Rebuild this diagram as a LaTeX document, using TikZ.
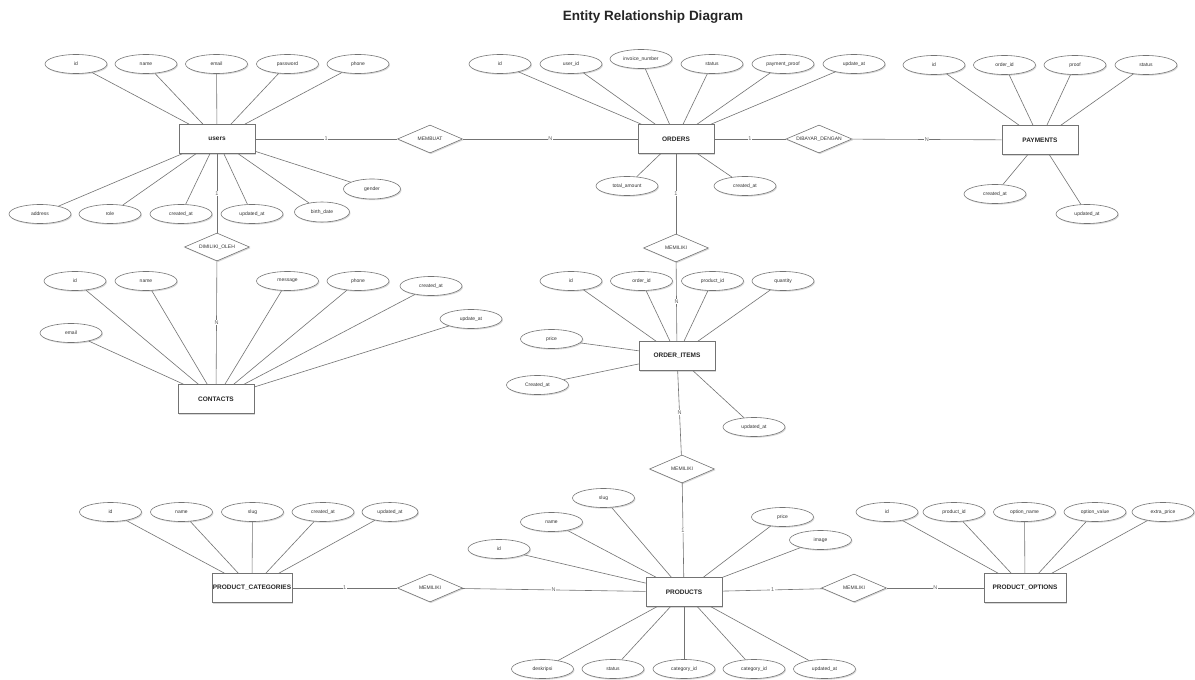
\documentclass[tikz,border=0pt]{standalone}
\usepackage{fontspec}
\setmainfont{Liberation Sans}
\usetikzlibrary{shapes.geometric,shadows}
\begin{document}
\begin{tikzpicture}[x=1pt,y=-1pt,
  every node/.style={font=\fontsize{5}{6}\selectfont, text=black!80},
  shad/.style={drop shadow={shadow xshift=1pt, shadow yshift=-1.2pt, opacity=0.3}},
  attr/.style={ellipse, draw=black!55, line width=0.6pt, fill=white, minimum width=62pt, minimum height=19pt, inner sep=0pt, shad},
  ent/.style={rectangle, draw=black!55, line width=0.6pt, fill=white, minimum width=76pt, minimum height=29pt, inner sep=0pt, font=\fontsize{6.5}{8}\selectfont\bfseries, text=black!85, shad},
  rel/.style={diamond, draw=black!55, line width=0.6pt, fill=white, minimum width=65pt, minimum height=28pt, inner sep=0pt, aspect=2.3, shad},
  link/.style={draw=black!55, line width=0.6pt},
  card/.style={midway, fill=white, inner sep=0.6pt, text=black!60, font=\fontsize{5.5}{6}\selectfont}
]
\fill[white] (0,0) rectangle (1195,680);
\path[use as bounding box] (0,0) rectangle (1195,680);

\node[font=\fontsize{13.5}{15}\selectfont\bfseries, text=black!85] (title) at (653,17) {Entity Relationship Diagram};

% entities
\node[ent] (users) at (217,139) {users};
\node[ent] (orders) at (676,139) {ORDERS};
\node[ent] (payments) at (1040,140) {PAYMENTS};
\node[ent] (contacts) at (216,399) {CONTACTS};
\node[ent] (items) at (677,356) {ORDER\_ITEMS};
\node[ent, minimum width=80pt] (cats) at (252,588) {PRODUCT\_CATEGORIES};
\node[ent] (products) at (684,592) {PRODUCTS};
\node[ent, minimum width=82pt] (options) at (1025,588) {PRODUCT\_OPTIONS};

% relationships
\node[rel] (membuat) at (430,139) {MEMBUAT};
\node[rel, minimum width=66pt] (dibayar) at (819,139) {DIBAYAR\_DENGAN};
\node[rel] (dimiliki) at (217,247) {DIMILIKI\_OLEH};
\node[rel] (mem1) at (676,248) {MEMILIKI};
\node[rel] (mem2) at (682,469) {MEMILIKI};
\node[rel] (mem3) at (430,588) {MEMILIKI};
\node[rel] (mem4) at (854,588) {MEMILIKI};

% users attributes
\node[attr] (u1) at (76,64) {id};
\node[attr] (u2) at (146,64) {name};
\node[attr] (u3) at (216.5,64) {email};
\node[attr] (u4) at (287.5,64) {password};
\node[attr] (u5) at (358,64) {phone};
\node[attr] (u6) at (40,214) {address};
\node[attr] (u7) at (110,214) {role};
\node[attr] (u8) at (181,214) {created\_at};
\node[attr] (u9) at (252,214) {updated\_at};
\node[attr, minimum width=55pt, minimum height=20pt] (u10) at (322,212) {birth\_date};
\node[attr, minimum width=57pt, minimum height=20pt] (u11) at (372,189) {gender};
\foreach \a in {u1,u2,u3,u4,u5,u6,u7,u8,u9,u10,u11} \draw[link] (\a) -- (users);

% orders attributes
\node[attr] (o1) at (500,64) {id};
\node[attr] (o2) at (571,64) {user\_id};
\node[attr] (o3) at (641,59) {invoice\_number};
\node[attr] (o4) at (712,64) {status};
\node[attr] (o5) at (783,64) {payment\_proof};
\node[attr] (o6) at (854,64) {update\_at};
\node[attr] (o7) at (627,186) {total\_amount};
\node[attr] (o8) at (745,186) {created\_at};
\foreach \a in {o1,o2,o3,o4,o5,o6,o7,o8} \draw[link] (\a) -- (orders);

% payments attributes
\node[attr] (p1) at (934,65) {id};
\node[attr] (p2) at (1004.5,65) {order\_id};
\node[attr] (p3) at (1075,65) {proof};
\node[attr] (p4) at (1146,65) {status};
\node[attr] (p5) at (995,194) {created\_at};
\node[attr] (p6) at (1087,214) {updated\_at};
\foreach \a in {p1,p2,p3,p4,p5,p6} \draw[link] (\a) -- (payments);

% contacts attributes
\node[attr] (c1) at (75,281) {id};
\node[attr] (c2) at (146,281) {name};
\node[attr] (c3) at (287.5,281) {message};
\node[attr] (c4) at (358,281) {phone};
\node[attr] (c5) at (431,286) {created\_at};
\node[attr] (c6) at (471,319) {update\_at};
\node[attr] (c7) at (71,333) {email};
\foreach \a in {c1,c2,c3,c4,c5,c6,c7} \draw[link] (\a) -- (contacts);

% order items attributes
\node[attr] (i1) at (571,281) {id};
\node[attr] (i2) at (641.5,281) {order\_id};
\node[attr] (i3) at (712.5,281) {product\_id};
\node[attr] (i4) at (783,281) {quantity};
\node[attr] (i5) at (551.5,339) {price};
\node[attr] (i6) at (537.5,385) {Created\_at};
\node[attr] (i7) at (754,427) {updated\_at};
\foreach \a in {i1,i2,i3,i4,i5,i6,i7} \draw[link] (\a) -- (items);

% categories attributes
\node[attr] (k1) at (110.5,512) {id};
\node[attr] (k2) at (181.5,512) {name};
\node[attr] (k3) at (252.5,512) {slug};
\node[attr] (k4) at (323,512) {created\_at};
\node[attr, minimum width=56pt] (k5) at (390,512) {updated\_at};
\foreach \a in {k1,k2,k3,k4,k5} \draw[link] (\a) -- (cats);

% products attributes
\node[attr] (r1) at (499,549) {id};
\node[attr] (r2) at (551.5,522) {name};
\node[attr] (r3) at (603.5,498) {slug};
\node[attr] (r4) at (782.5,517) {price};
\node[attr] (r5) at (820.5,540) {image};
\node[attr] (r6) at (542.5,669) {deskripsi};
\node[attr] (r7) at (613,669) {status};
\node[attr] (r8) at (684,669) {category\_id};
\node[attr] (r9) at (754,669) {category\_id};
\node[attr] (r10) at (824.5,669) {updated\_at};
\foreach \a in {r1,r2,r3,r4,r5,r6,r7,r8,r9,r10} \draw[link] (\a) -- (products);

% options attributes
\node[attr] (q1) at (887,512) {id};
\node[attr] (q2) at (954,512) {product\_id};
\node[attr] (q3) at (1024.5,512) {option\_name};
\node[attr] (q4) at (1095,512) {option\_value};
\node[attr] (q5) at (1163,512) {extra\_price};
\foreach \a in {q1,q2,q3,q4,q5} \draw[link] (\a) -- (options);

% relationship connectors
\draw[link] (users) -- node[card] {1} (membuat);
\draw[link] (membuat) -- node[card] {N} (orders);
\draw[link] (orders) -- node[card] {1} (dibayar);
\draw[link] (dibayar) -- node[card] {N} (payments);
\draw[link] (users) -- node[card] {1} (dimiliki);
\draw[link] (dimiliki) -- node[card] {N} (contacts);
\draw[link] (orders) -- node[card] {1} (mem1);
\draw[link] (mem1) -- node[card] {N} (items);
\draw[link] (items) -- node[card] {N} (mem2);
\draw[link] (mem2) -- node[card] {1} (products);
\draw[link] (cats) -- node[card] {1} (mem3);
\draw[link] (mem3) -- node[card] {N} (products);
\draw[link] (products) -- node[card] {1} (mem4);
\draw[link] (mem4) -- node[card] {N} (options);
\end{tikzpicture}
\end{document}
